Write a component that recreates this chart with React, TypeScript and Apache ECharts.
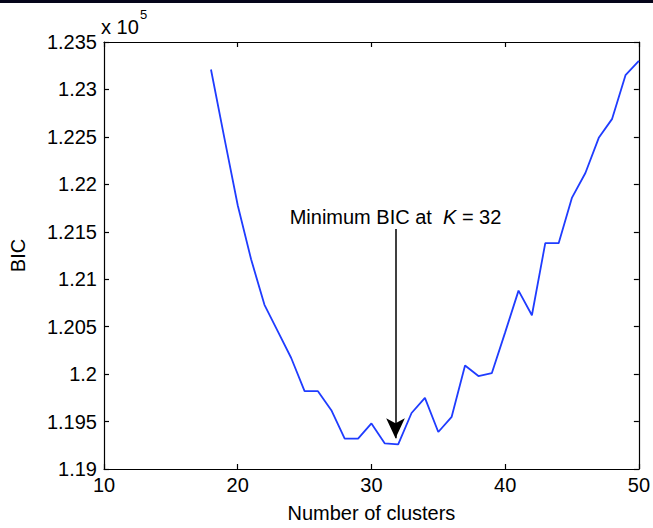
import React, { useEffect, useRef } from "react";
import * as echarts from "echarts";

// Number of clusters K and the BIC score (in units of 10^5) for each K
const clusterCounts = [
  18, 19, 20, 21, 22, 23, 24, 25, 26, 27, 28, 29, 30, 31, 32, 33, 34,
  35, 36, 37, 38, 39, 40, 41, 42, 43, 44, 45, 46, 47, 48, 49, 50,
];
const bicValues = [
  1.2321, 1.2249, 1.2178, 1.2121, 1.2073, 1.2045, 1.2017, 1.1982, 1.1982,
  1.1962, 1.1932, 1.1932, 1.1948, 1.1927, 1.1926, 1.1959, 1.1975, 1.1939,
  1.1955, 1.2009, 1.1998, 1.2001, 1.2044, 1.2088, 1.2062, 1.2138, 1.2138,
  1.2186, 1.2212, 1.2249, 1.2269, 1.2315, 1.233,
];

const xTicks = { min: 10, max: 50, step: 10 };
const yTicks = { min: 1.19, max: 1.235, step: 0.005 };

// Annotation arrow: from the caption down to the minimum
const arrowX = 31.8;
const arrowFrom = 1.2153;
const arrowTo = 1.19325;

const FONT = '"Liberation Sans", Arial, Helvetica, sans-serif';
const FS = 20;

export default function App() {
  const ref = useRef<HTMLDivElement>(null);

  useEffect(() => {
    if (!ref.current) return;
    const chart = echarts.init(ref.current, undefined, { renderer: "svg" });

    const axisLine = { show: true, lineStyle: { color: "#000", width: 1.2 } };
    const tick = { show: true, inside: true, length: 5, lineStyle: { color: "#000", width: 1.2 } };

    chart.setOption({
      animation: false,
      backgroundColor: "#fff",
      grid: { left: 101, right: 14, top: 42, bottom: 57, containLabel: false },
      xAxis: [
        {
          type: "value",
          min: xTicks.min,
          max: xTicks.max,
          interval: xTicks.step,
          position: "bottom",
          name: "Number of clusters",
          nameLocation: "middle",
          nameGap: 34,
          nameTextStyle: { color: "#000", fontSize: FS, fontFamily: FONT },
          axisLine,
          axisTick: tick,
          splitLine: { show: false },
          axisLabel: { color: "#000", fontSize: FS, fontFamily: FONT, margin: 6 },
        },
        {
          type: "value",
          min: xTicks.min,
          max: xTicks.max,
          interval: xTicks.step,
          position: "top",
          axisLine,
          axisTick: tick,
          splitLine: { show: false },
          axisLabel: { show: false },
        },
      ],
      yAxis: [
        {
          type: "value",
          min: yTicks.min,
          max: yTicks.max,
          interval: yTicks.step,
          position: "left",
          name: "BIC",
          nameLocation: "middle",
          nameGap: 76,
          nameRotate: 90,
          nameTextStyle: { color: "#000", fontSize: FS, fontFamily: FONT },
          axisLine,
          axisTick: tick,
          splitLine: { show: false },
          axisLabel: {
            color: "#000",
            fontSize: FS,
            fontFamily: FONT,
            margin: 7,
            formatter: (v: number) => String(parseFloat(v.toFixed(3))),
          },
        },
        {
          type: "value",
          min: yTicks.min,
          max: yTicks.max,
          interval: yTicks.step,
          position: "right",
          axisLine,
          axisTick: tick,
          splitLine: { show: false },
          axisLabel: { show: false },
        },
      ],
      series: [
        {
          type: "line",
          xAxisIndex: 0,
          yAxisIndex: 0,
          data: clusterCounts.map((k, i) => [k, bicValues[i]]),
          showSymbol: false,
          symbol: "none",
          lineStyle: { color: "#1f3cff", width: 1.8 },
          silent: true,
          markLine: {
            silent: true,
            animation: false,
            lineStyle: { color: "#000", width: 1.5, type: "solid" },
            label: {
              show: true,
              position: "start",
              distance: 2,
              color: "#000",
              fontSize: FS,
              fontFamily: FONT,
              formatter: "{a|Minimum BIC at  }{k|K}{a| = 32}",
              rich: {
                a: { fontSize: FS, fontFamily: FONT, color: "#000" },
                k: { fontSize: FS, fontFamily: FONT, color: "#000", fontStyle: "italic" },
              },
            },
            emphasis: { disabled: true },
            data: [
              [
                { coord: [arrowX, arrowFrom], symbol: "none" },
                { coord: [arrowX, arrowTo], symbol: "arrow", symbolSize: [14, 20] },
              ],
            ],
          },
        },
      ],
      graphic: [
        { type: "rect", left: 0, top: 0, shape: { width: 653, height: 3 }, style: { fill: "#05051a" } },
        {
          type: "text",
          left: 101,
          top: 17,
          style: { text: "x 10", fontSize: FS, fontFamily: FONT, fill: "#000" },
        },
        {
          type: "text",
          left: 140,
          top: 8,
          style: { text: "5", fontSize: 13, fontFamily: FONT, fill: "#000" },
        },
      ],
    });

    return () => chart.dispose();
  }, []);

  return (
    <div
      ref={ref}
      style={{ position: "absolute", left: 0, top: 0, width: 653, height: 528 }}
    />
  );
}
